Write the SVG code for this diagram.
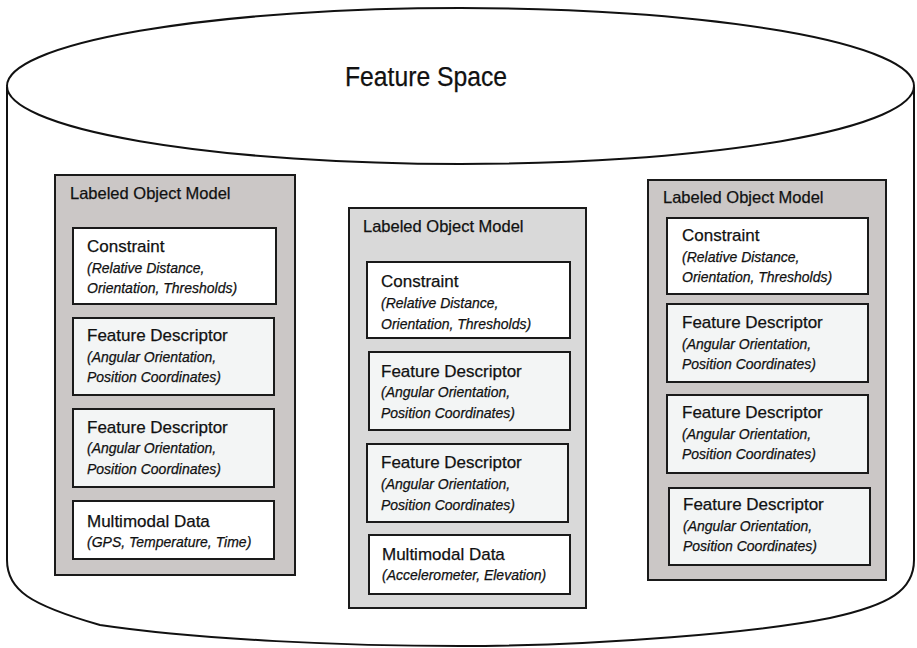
<svg xmlns="http://www.w3.org/2000/svg" width="917" height="648" viewBox="0 0 917 648">
<style>
.cyl{fill:#fff;stroke:#111;stroke-width:2}
.outer{stroke:#1a1a1a;stroke-width:2}
.og{fill:#cbc7c6}
.om{fill:#d9d9d9}
.box{stroke:#1a1a1a;stroke-width:2}
.w{fill:#fff}
.fd{fill:#f3f5f5}
text{font-family:"Liberation Sans",Arial,sans-serif;fill:#111;stroke:#111;stroke-width:0.25}
.ttl{font-size:16.5px}
.hd{font-size:17px}
.it{font-size:14px;font-style:italic}
.big{font-size:27px}
</style>
<g id="feature-space">
<path class="cyl" d="M7,87 V560 C7,590 30,605 100,625 C200,640 350,646 460,646 C600,646 760,632 830,618 C890,605 914,590 914,560 V87"/>
<ellipse class="cyl" cx="460.5" cy="86" rx="453.5" ry="78"/>
<text class="big" x="345" y="86" textLength="162" lengthAdjust="spacingAndGlyphs">Feature Space</text>
</g>
<g id="connectors"></g>
<g id="lom-left">
<rect class="outer og" x="55" y="175" width="240" height="400"/>
<text class="ttl" x="70" y="199">Labeled Object Model</text>
<g id="left-constraint">
<rect class="box w" x="73" y="228" width="203" height="76"/>
<text class="hd" x="87" y="252">Constraint</text>
<text class="it" x="87" y="273">(Relative Distance,</text>
<text class="it" x="87" y="293">Orientation, Thresholds)</text>
</g>
<g id="left-fd1">
<rect class="box fd" x="73" y="318" width="201" height="77"/>
<text class="hd" x="87" y="341">Feature Descriptor</text>
<text class="it" x="87" y="362">(Angular Orientation,</text>
<text class="it" x="87" y="382">Position Coordinates)</text>
</g>
<g id="left-fd2">
<rect class="box fd" x="73" y="409" width="201" height="78"/>
<text class="hd" x="87" y="433">Feature Descriptor</text>
<text class="it" x="87" y="453">(Angular Orientation,</text>
<text class="it" x="87" y="474">Position Coordinates)</text>
</g>
<g id="left-mm">
<rect class="box w" x="73" y="501" width="201" height="58"/>
<text class="hd" x="87" y="527">Multimodal Data</text>
<text class="it" x="87" y="547">(GPS, Temperature, Time)</text>
</g>
</g>
<g id="lom-middle">
<rect class="outer om" x="349" y="208" width="237" height="400"/>
<text class="ttl" x="363" y="232">Labeled Object Model</text>
<g id="mid-constraint">
<rect class="box w" x="367" y="262" width="203" height="76"/>
<text class="hd" x="381" y="287">Constraint</text>
<text class="it" x="381" y="308">(Relative Distance,</text>
<text class="it" x="381" y="329">Orientation, Thresholds)</text>
</g>
<g id="mid-fd1">
<rect class="box fd" x="369" y="352" width="201" height="78"/>
<text class="hd" x="381" y="377">Feature Descriptor</text>
<text class="it" x="381" y="397">(Angular Orientation,</text>
<text class="it" x="381" y="418">Position Coordinates)</text>
</g>
<g id="mid-fd2">
<rect class="box fd" x="367" y="444" width="201" height="78"/>
<text class="hd" x="381" y="468">Feature Descriptor</text>
<text class="it" x="381" y="489">(Angular Orientation,</text>
<text class="it" x="381" y="510">Position Coordinates)</text>
</g>
<g id="mid-mm">
<rect class="box w" x="369" y="535" width="201" height="59"/>
<text class="hd" x="382" y="560">Multimodal Data</text>
<text class="it" x="382" y="580">(Accelerometer, Elevation)</text>
</g>
</g>
<g id="lom-right">
<rect class="outer og" x="648" y="180" width="238" height="400"/>
<text class="ttl" x="663" y="203">Labeled Object Model</text>
<g id="right-constraint">
<rect class="box w" x="667" y="218" width="201" height="76"/>
<text class="hd" x="682" y="241">Constraint</text>
<text class="it" x="682" y="262">(Relative Distance,</text>
<text class="it" x="682" y="282">Orientation, Thresholds)</text>
</g>
<g id="right-fd1">
<rect class="box fd" x="667" y="304" width="201" height="78"/>
<text class="hd" x="682" y="328">Feature Descriptor</text>
<text class="it" x="682" y="349">(Angular Orientation,</text>
<text class="it" x="682" y="369">Position Coordinates)</text>
</g>
<g id="right-fd2">
<rect class="box fd" x="667" y="395" width="201" height="78"/>
<text class="hd" x="682" y="418">Feature Descriptor</text>
<text class="it" x="682" y="439">(Angular Orientation,</text>
<text class="it" x="682" y="459">Position Coordinates)</text>
</g>
<g id="right-fd3">
<rect class="box fd" x="669" y="488" width="201" height="77"/>
<text class="hd" x="683" y="510">Feature Descriptor</text>
<text class="it" x="683" y="531">(Angular Orientation,</text>
<text class="it" x="683" y="551">Position Coordinates)</text>
</g>
</g>
</svg>
